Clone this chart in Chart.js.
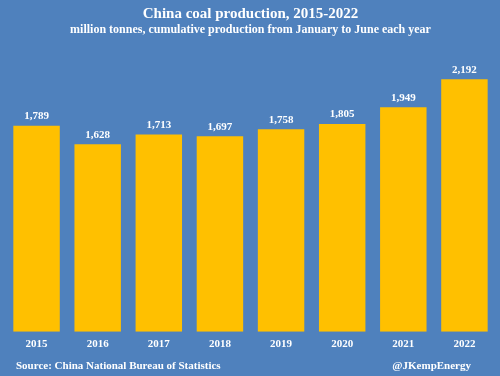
<!DOCTYPE html>
<html>
    <head>
        <meta charset="utf-8">
        <title>China coal production</title>
        <script src="https://cdn.jsdelivr.net/npm/chart.js@4.4.0/dist/chart.umd.min.js"></script>
        <style>
            body { margin: 0; background: #4F81BD; }
            #wrap { width: 500px; height: 376px; }
        </style>
    </head>
    <body>
        <div id="wrap"><canvas id="barChart"></canvas></div>

        <script>
            // data
            const years = ["2015", "2016", "2017", "2018", "2019", "2020", "2021", "2022"];
            const production = [1789, 1628, 1713, 1697, 1758, 1805, 1949, 2192];

            const serif = "'Liberation Serif', 'DejaVu Serif', serif";

            // value labels on top of bars + footer lines
            const extras = {
                id: 'extras',
                afterDatasetsDraw(chart) {
                    const ctx = chart.ctx;
                    const meta = chart.getDatasetMeta(0);
                    ctx.save();
                    ctx.fillStyle = '#ffffff';
                    ctx.font = "bold 11px " + serif;
                    ctx.textAlign = 'center';
                    ctx.textBaseline = 'bottom';
                    meta.data.forEach(function(bar, i) {
                        ctx.fillText(production[i].toLocaleString('en-US'), bar.x, bar.y - 4);
                    });
                    ctx.font = "bold 11px " + serif;
                    ctx.textBaseline = 'middle';
                    ctx.textAlign = 'left';
                    ctx.fillText("Source: China National Bureau of Statistics", 16, 366);
                    ctx.textAlign = 'right';
                    ctx.fillText("@JKempEnergy", 471, 366);
                    ctx.restore();
                }
            };

            new Chart(document.getElementById("barChart"), {
                type: 'bar',
                data: {
                    labels: years,
                    datasets: [{
                        data: production,
                        backgroundColor: '#FFC000',
                        barPercentage: 0.76,
                        categoryPercentage: 1.0
                    }]
                },
                options: {
                    responsive: true,
                    maintainAspectRatio: false,
                    animation: false,
                    layout: { padding: { left: 6, right: 5, top: 0, bottom: 19 } },
                    plugins: {
                        legend: { display: false },
                        tooltip: { enabled: false },
                        title: {
                            display: true,
                            text: "China coal production, 2015-2022",
                            color: '#ffffff',
                            font: { family: serif, size: 15, weight: 'bold' },
                            padding: { top: 5, bottom: 0 }
                        },
                        subtitle: {
                            display: true,
                            text: "million tonnes, cumulative production from January to June each year",
                            color: '#ffffff',
                            font: { family: serif, size: 12, weight: 'bold' },
                            padding: { top: 0, bottom: 18 }
                        }
                    },
                    scales: {
                        x: {
                            grid: { display: false, drawTicks: false },
                            border: { display: false },
                            ticks: {
                                color: '#ffffff',
                                font: { family: serif, size: 11, weight: 'bold' },
                                padding: 6
                            }
                        },
                        y: {
                            display: false,
                            min: 0,
                            max: 2400
                        }
                    }
                },
                plugins: [extras]
            });
        </script>
    </body>
</html>
